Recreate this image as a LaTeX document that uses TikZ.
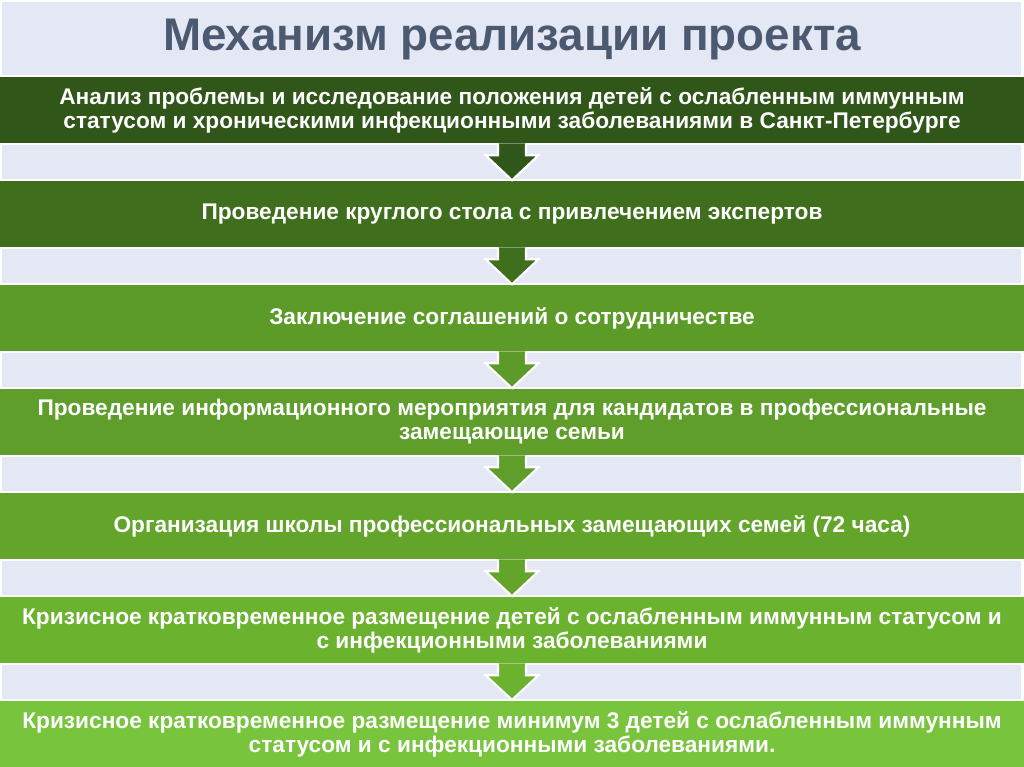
\documentclass[tikz,border=0pt]{standalone}
\usepackage{fontspec}
\setmainfont{Liberation Sans}
\usetikzlibrary{calc}
\definecolor{bg}{HTML}{E4E8F4}
\definecolor{titlec}{HTML}{4B5A71}
\definecolor{c1}{HTML}{30561A}
\definecolor{c2}{HTML}{3F6F1D}
\definecolor{c3}{HTML}{5C9B27}
\definecolor{c4}{HTML}{5F9E2A}
\definecolor{c5}{HTML}{63A52A}
\definecolor{c6}{HTML}{6BB22F}
\definecolor{c7}{HTML}{78C43C}
\tikzset{
  band/.style={fill=bg, draw=none},
  stagebox/.style={minimum width=768pt, minimum height=49.5pt, inner sep=0pt,
    text=white, align=center, font=\fontsize{17}{18}\selectfont\bfseries},
  flowarrow/.style={draw=white, line width=1.6pt, line join=miter},
  titletext/.style={text=titlec, font=\fontsize{34.3}{40}\selectfont\bfseries}
}
\begin{document}
\begin{tikzpicture}[x=0.75pt,y=0.75pt]
\useasboundingbox (0,0) rectangle (1024,-767);
\fill[white] (0,0) rectangle (1024,-767);
% background bands
\fill[band] (2,-2) rectangle (1021,-75);
\foreach \t in {145,249,353,457,561,665} {
  \fill[band] (2,-\t) rectangle (1021,-\t-34);
}
\node[titletext] (title) at (512,-40) {Механизм реализации проекта};
\node[stagebox, fill=c1] (b1) at (512,-110) {Анализ проблемы и исследование положения детей с ослабленным иммунным\\статусом и хроническими инфекционными заболеваниями в Санкт-Петербурге};
\node[stagebox, fill=c2] (b2) at (512,-214) {Проведение круглого стола с привлечением экспертов};
\node[stagebox, fill=c3] (b3) at (512,-318) {Заключение соглашений о сотрудничестве};
\node[stagebox, fill=c4] (b4) at (512,-422) {Проведение информационного мероприятия для кандидатов в профессиональные\\замещающие семьи};
\node[stagebox, fill=c5] (b5) at (512,-526) {Организация школы профессиональных замещающих семей (72 часа)};
\node[stagebox, fill=c6] (b6) at (512,-630) {Кризисное кратковременное размещение детей с ослабленным иммунным статусом и\\с инфекционными заболеваниями};
\node[stagebox, fill=c7, minimum height=50pt] (b7) at (512,-734) {Кризисное кратковременное размещение минимум 3 детей с ослабленным иммунным\\статусом и с инфекционными заболеваниями.};
% arrows
\foreach \a/\b/\c in {b1/b2/c1,b2/b3/c2,b3/b4/c3,b4/b5/c4,b5/b6/c5,b6/b7/c6} {
  \draw[flowarrow, fill=\c] ($(\a.south)+(-14,0)$) -- ($(\a.south)+(-14,-12)$)
    -- ($(\a.south)+(-26.5,-12)$) -- ($(\b.north)+(0,0.5)$)
    -- ($(\a.south)+(26.5,-12)$) -- ($(\a.south)+(14,-12)$)
    -- ($(\a.south)+(14,0)$);
}
\end{tikzpicture}
\end{document}
